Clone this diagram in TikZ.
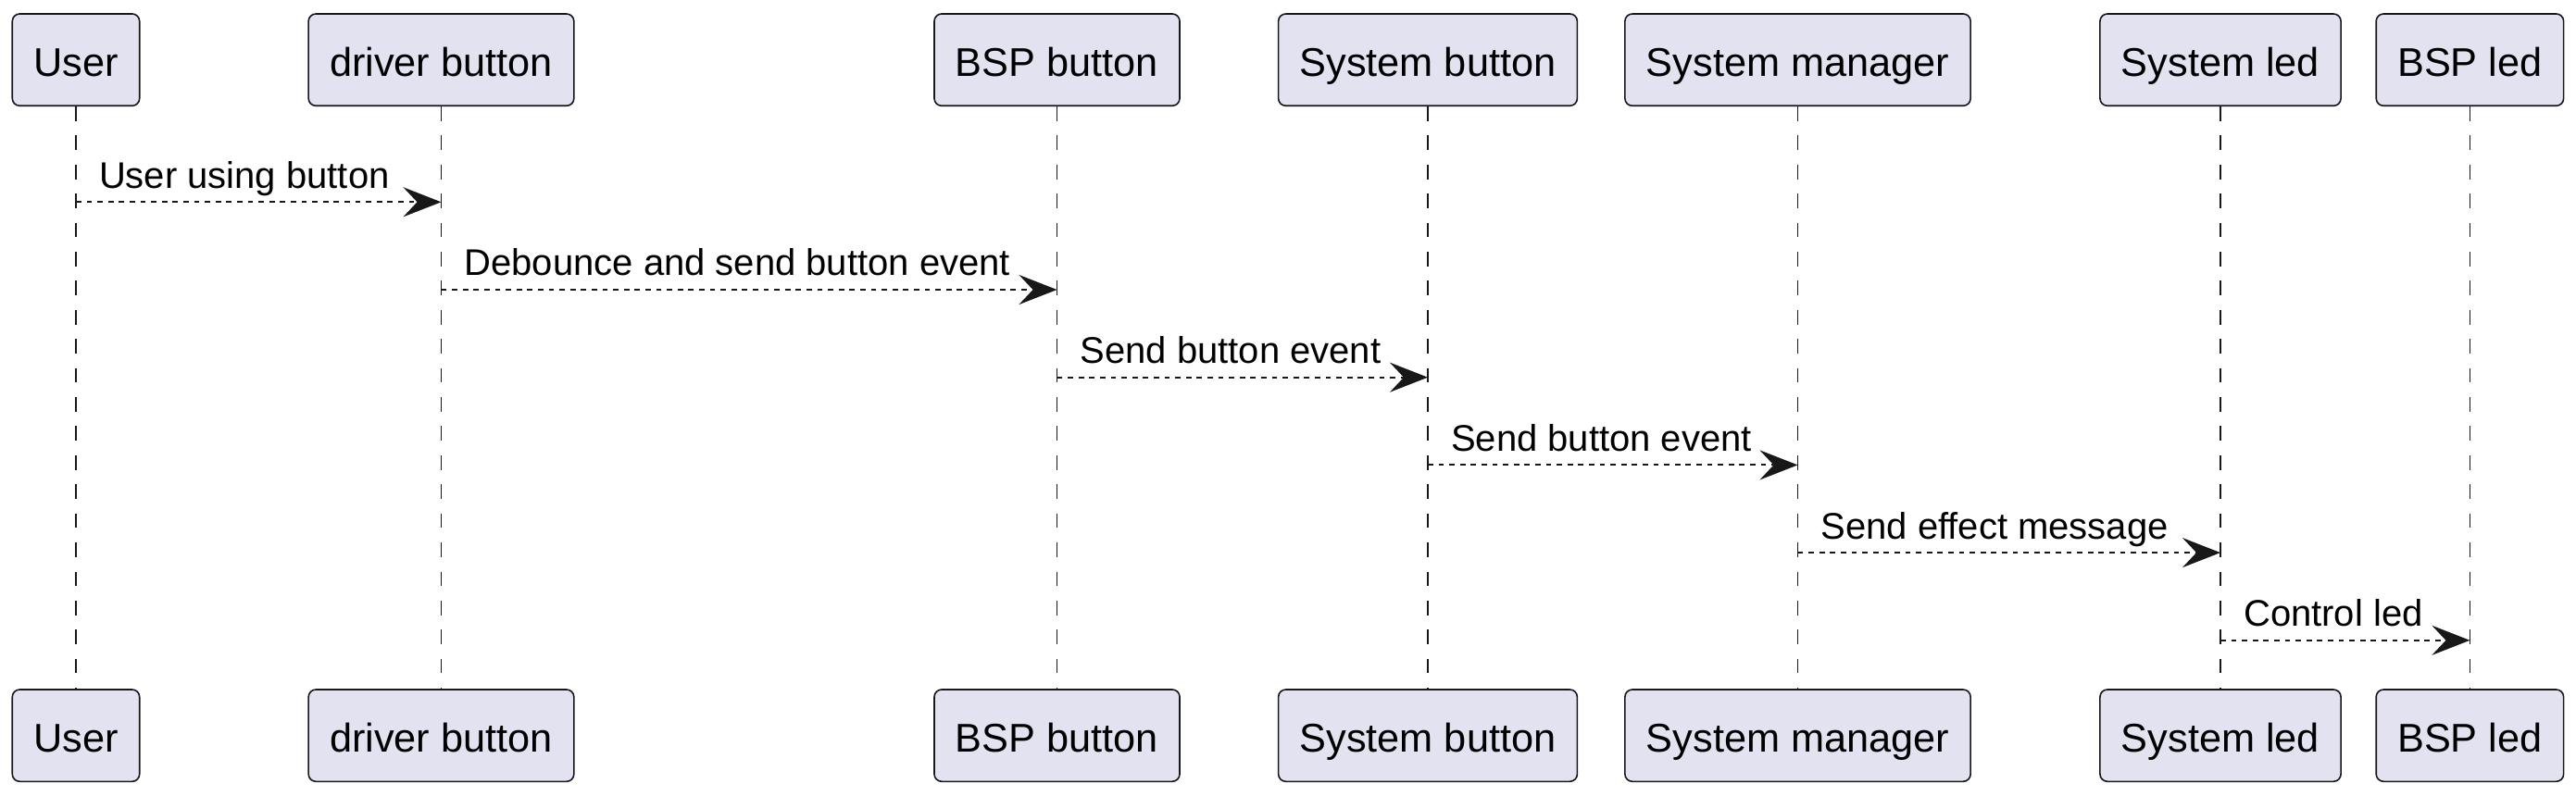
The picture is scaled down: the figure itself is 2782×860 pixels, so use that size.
\documentclass[tikz,border=0pt]{standalone}
\usepackage{fontspec}
\setmainfont{Liberation Sans}
\usepackage{xcolor}
\usepackage{tikz}
\usetikzlibrary{arrows.meta}
\definecolor{umlline}{HTML}{181818}
\definecolor{umlfill}{HTML}{E2E2F0}

\begin{document}
\begin{tikzpicture}[
  x=0.5pt, y=-0.5pt,
  actor/.style={draw=umlline,fill=umlfill,rounded corners=4pt,line width=0.8pt,
    font=\fontsize{21.65}{26}\selectfont,inner xsep=11.5pt,
    minimum height=49.65pt,text height=21.9pt,text depth=4.3pt},
  lifeline/.style={draw=umlline,line width=0.8pt,dash pattern=on 7.85pt off 7.85pt},
  msg/.style={draw=umlline,line width=1.1pt,dash pattern=on 2.9pt off 2.9pt,
    -{Stealth[length=20.5pt,width=16pt,inset=7.5pt]}},
  msgtext/.style={anchor=base west,inner sep=0pt,xshift=12pt,yshift=7.5pt,
    font=\fontsize{20}{24}\selectfont}
]
\useasboundingbox (0,0) rectangle (2782,860);
\node[actor] (user) at (82,64.65) {User};
\node[actor] (driver) at (476.5,64.65) {driver button};
\node[actor] (bspbtn) at (1141.5,64.65) {BSP button};
\node[actor] (sysbtn) at (1542,64.65) {System button};
\node[actor] (sysmgr) at (1941.5,64.65) {System manager};
\node[actor] (sysled) at (2398,64.65) {System led};
\node[actor] (bspled) at (2667.4,64.65) {BSP led};
\node[actor] (userB) at (82,794.65) {User};
\node[actor] (driverB) at (476.5,794.65) {driver button};
\node[actor] (bspbtnB) at (1141.5,794.65) {BSP button};
\node[actor] (sysbtnB) at (1542,794.65) {System button};
\node[actor] (sysmgrB) at (1941.5,794.65) {System manager};
\node[actor] (sysledB) at (2398,794.65) {System led};
\node[actor] (bspledB) at (2667.4,794.65) {BSP led};
\draw[lifeline] (user) -- (userB);
\draw[lifeline] (driver) -- (driverB);
\draw[lifeline] (bspbtn) -- (bspbtnB);
\draw[lifeline] (sysbtn) -- (sysbtnB);
\draw[lifeline] (sysmgr) -- (sysmgrB);
\draw[lifeline] (sysled) -- (sysledB);
\draw[lifeline] (bspled) -- (bspledB);
\coordinate (m1) at (0,218.3);
\coordinate (m2) at (0,313);
\coordinate (m3) at (0,407.7);
\coordinate (m4) at (0,502.4);
\coordinate (m5) at (0,597.1);
\coordinate (m6) at (0,691.8);
\draw[msg] (user |- m1) -- node[msgtext,at start] {User using button} (driver |- m1);
\draw[msg] (driver |- m2) -- node[msgtext,at start] {Debounce and send button event} (bspbtn |- m2);
\draw[msg] (bspbtn |- m3) -- node[msgtext,at start] {Send button event} (sysbtn |- m3);
\draw[msg] (sysbtn |- m4) -- node[msgtext,at start] {Send button event} (sysmgr |- m4);
\draw[msg] (sysmgr |- m5) -- node[msgtext,at start] {Send effect message} (sysled |- m5);
\draw[msg] (sysled |- m6) -- node[msgtext,at start] {Control led} (bspled |- m6);
\end{tikzpicture}
\end{document}
